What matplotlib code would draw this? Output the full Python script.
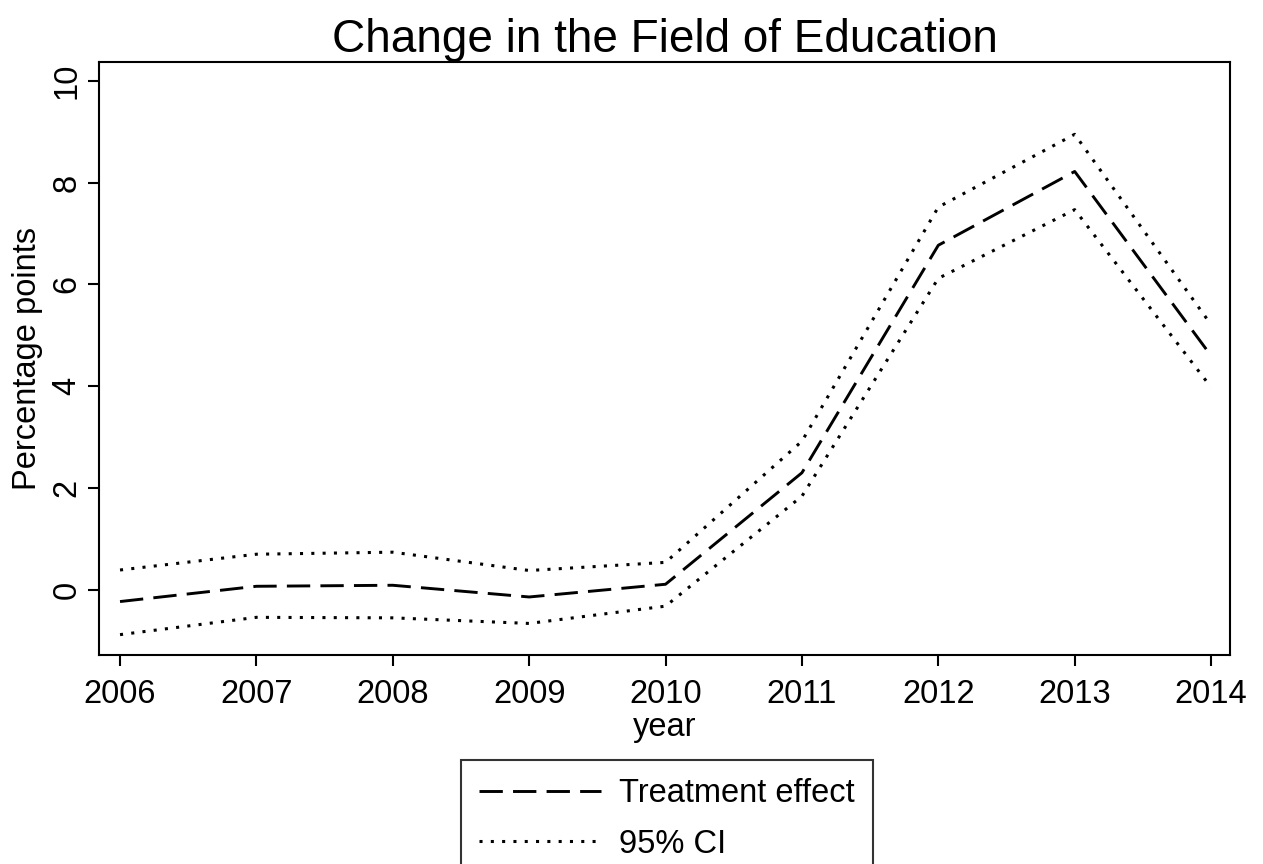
import matplotlib.pyplot as plt
import numpy as np

plt.rcParams['font.family'] = ['Liberation Sans', 'DejaVu Sans']

years = [2006, 2007, 2008, 2009, 2010, 2011, 2012, 2013, 2014]
effect = [-0.23, 0.07, 0.09, -0.14, 0.11, 2.30, 6.77, 8.22, 4.60]
ci_upper = [0.39, 0.70, 0.74, 0.38, 0.54, 2.92, 7.52, 8.95, 5.21]
ci_lower = [-0.88, -0.54, -0.55, -0.66, -0.32, 1.84, 6.12, 7.47, 3.98]

fig = plt.figure(figsize=(12.63, 8.64), dpi=100)
ax = fig.add_axes([0.0784, 0.2419, 0.8956, 0.6863])

dash = (0, (8, 3.5))
dot = (0, (1, 2.7))
ax.plot(years, effect, color="black", lw=2.1, linestyle=dash, label="Treatment effect")
ax.plot(years, ci_upper, color="black", lw=2.2, linestyle=dot, label="95% CI")
ax.plot(years, ci_lower, color="black", lw=2.2, linestyle=dot)

ax.set_xlim(2005.846, 2014.14)
ax.set_ylim(-1.28, 10.37)
ax.set_xticks(years)
ax.set_yticks([0, 2, 4, 6, 8, 10])
ax.set_yticklabels(["0", "2", "4", "6", "8", "10"], rotation=90, va="center")

for s in ax.spines.values():
    s.set_linewidth(1.5)
ax.tick_params(axis="both", direction="out", length=8, width=1.5, labelsize=23.5)
ax.tick_params(axis="x", pad=9)
ax.tick_params(axis="y", pad=4)

ax.set_title("Change in the Field of Education", fontsize=33, pad=7)
ax.set_xlabel("year", fontsize=23.5, labelpad=2)
ax.set_ylabel("Percentage points", fontsize=23.5, labelpad=6)

leg = fig.legend(loc="upper center", bbox_to_anchor=(667 / 1263, 1 - 760 / 864),
                 fontsize=23.5, frameon=True, fancybox=False, edgecolor="black",
                 handlelength=3.75, handletextpad=0.55, borderpad=0.55, labelspacing=0.6,
                 borderaxespad=0)
leg.get_frame().set_linewidth(1.5)

fig.savefig("out.png", dpi=100)
